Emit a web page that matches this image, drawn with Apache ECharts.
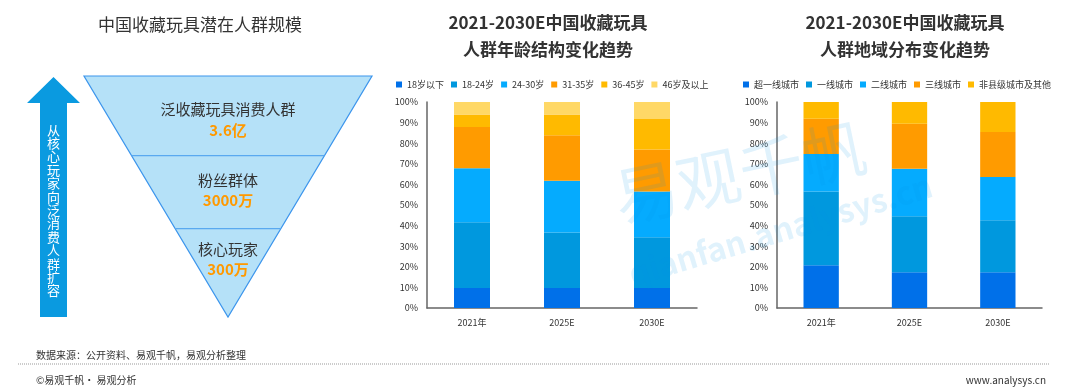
<!DOCTYPE html>
<html>
<head>
<meta charset="utf-8">
<script src="https://cdn.jsdelivr.net/npm/echarts@6/dist/echarts.min.js"></script>
<style>html,body{margin:0;padding:0;background:#fff}#c{width:1080px;height:392px}</style>
</head>
<body>
<div id="c"></div>
<script>
// ---- data ----
var years = ['2021年', '2025E', '2030E'];
var ageNames = ['18岁以下', '18-24岁', '24-30岁', '31-35岁', '36-45岁', '46岁及以上'];
var age_u18 = [9.7, 9.7, 9.7];
var age_18_24 = [31.9, 27.0, 24.6];
var age_24_30 = [26.2, 25.1, 22.3];
var age_31_35 = [20.1, 22.0, 20.3];
var age_36_45 = [6.0, 10.1, 14.8];
var age_46p = [6.1, 6.1, 8.3];
var cityNames = ['超一线城市', '一线城市', '二线城市', '三线城市', '非县级城市及其他'];
var city_super = [20.7, 17.3, 17.3];
var city_t1 = [35.9, 27.2, 25.3];
var city_t2 = [18.2, 23.1, 21.0];
var city_t3 = [17.1, 21.9, 21.8];
var city_other = [8.1, 10.5, 14.6];
var funnelNames = ['泛收藏玩具消费人群', '粉丝群体', '核心玩家'];
var funnelValues = ['3.6亿', '3000万', '300万'];
var arrowText = '从核心玩家向泛消费人群扩容';

var colors = ['#0070E9', '#0098DE', '#05ABFE', '#FF9B00', '#FFBA00', '#FFD866'];
var ageData = [age_u18, age_18_24, age_24_30, age_31_35, age_36_45, age_46p];
var cityData = [city_super, city_t1, city_t2, city_t3, city_other];

var chart = echarts.init(document.getElementById('c'));
var FONT = '"Noto Sans CJK SC", "Noto Sans", sans-serif';

function mkSeries(names, data, idx, stack) {
  return names.map(function (n, i) {
    return {
      name: n, type: 'bar', stack: stack, xAxisIndex: idx, yAxisIndex: idx,
      barWidth: '40%', data: data[i],
      itemStyle: { color: colors[i] }
    };
  });
}

function xAx(idx) {
  return {
    gridIndex: idx, type: 'category', data: years,
    axisLine: { lineStyle: { color: '#666', width: 1.5 } },
    axisTick: { show: false },
    axisLabel: { color: '#333', fontSize: 9, margin: 10, fontFamily: FONT }
  };
}
function yAx(idx) {
  return {
    gridIndex: idx, type: 'value', min: 0, max: 100, interval: 10,
    axisLine: { show: true, lineStyle: { color: '#666', width: 1.5 } },
    axisTick: { show: false }, splitLine: { show: false },
    axisLabel: { color: '#333', fontSize: 9, margin: 9, formatter: '{value}%', fontFamily: FONT }
  };
}

// funnel geometry
var fTop = 76, fL = 84, fR = 372, apexX = 228, apexY = 317;
var cuts = [fTop, 155.7, 228.7, apexY];
function xAt(y, side) {
  var t = (y - fTop) / (apexY - fTop);
  return side < 0 ? fL + (apexX - fL) * t : fR + (apexX - fR) * t;
}
var graphics = [];
graphics.push({
  type: 'polygon',
  shape: { points: [[fL, fTop], [fR, fTop], [apexX, apexY]] },
  style: { fill: '#B5E1F8', stroke: '#3C95EC', lineWidth: 1.2 }
});
[cuts[1], cuts[2]].forEach(function (y) {
  graphics.push({
    type: 'line',
    shape: { x1: xAt(y, -1), y1: y, x2: xAt(y, 1), y2: y },
    style: { stroke: '#5AA9F0', lineWidth: 1.2 }
  });
});
var nameY = [109, 180, 249], valY = [130, 200, 269];
funnelNames.forEach(function (n, i) {
  graphics.push({ type: 'text', x: apexX, y: nameY[i],
    style: { text: n, fill: '#333', font: '15px ' + FONT, align: 'center', verticalAlign: 'middle' } });
  graphics.push({ type: 'text', x: apexX, y: valY[i],
    style: { text: funnelValues[i], fill: '#FF9900', font: 'bold 15px ' + FONT, align: 'center', verticalAlign: 'middle' } });
});
// arrow
graphics.push({
  type: 'polygon',
  shape: { points: [[53.5, 77], [80, 103], [67, 103], [67, 317], [40, 317], [40, 103], [27, 103]] },
  style: { fill: '#0A9AE0' }
});
graphics.push({ type: 'text', x: 53.5, y: 210,
  style: { text: arrowText.split('').join('\n'), fill: '#fff', font: '13px ' + FONT,
    lineHeight: 13.4, align: 'center', verticalAlign: 'middle' } });
// titles
graphics.push({ type: 'text', x: 200, y: 25,
  style: { text: '中国收藏玩具潜在人群规模', fill: '#333', font: '17px ' + FONT, align: 'center', verticalAlign: 'middle' } });
graphics.push({ type: 'text', x: 548, y: 23,
  style: { text: '2021-2030E中国收藏玩具', fill: '#333', font: 'bold 17px ' + FONT, align: 'center', verticalAlign: 'middle' } });
graphics.push({ type: 'text', x: 548, y: 50,
  style: { text: '人群年龄结构变化趋势', fill: '#333', font: 'bold 17px ' + FONT, align: 'center', verticalAlign: 'middle' } });
graphics.push({ type: 'text', x: 905, y: 23,
  style: { text: '2021-2030E中国收藏玩具', fill: '#333', font: 'bold 17px ' + FONT, align: 'center', verticalAlign: 'middle' } });
graphics.push({ type: 'text', x: 905, y: 50,
  style: { text: '人群地域分布变化趋势', fill: '#333', font: 'bold 17px ' + FONT, align: 'center', verticalAlign: 'middle' } });
// footer
graphics.push({ type: 'text', x: 36, y: 355,
  style: { text: '数据来源：公开资料、易观千帆，易观分析整理', fill: '#333', font: '10px ' + FONT, verticalAlign: 'middle' } });
graphics.push({ type: 'line', shape: { x1: 18, y1: 364, x2: 1050, y2: 364 },
  style: { stroke: '#999', lineWidth: 1, lineDash: [1, 1] } });
graphics.push({ type: 'text', x: 36, y: 380,
  style: { text: '©易观千帆· 易观分析', fill: '#333', font: '10px ' + FONT, verticalAlign: 'middle' } });
graphics.push({ type: 'text', x: 1046, y: 380,
  style: { text: 'www.analysys.cn', fill: '#333', font: '10px ' + FONT, align: 'right', verticalAlign: 'middle' } });
// watermark
graphics.push({ type: 'text', x: 621, y: 230, rotation: 0.206, z: 100,
  style: { text: '易观千帆', fill: 'rgba(0,150,230,0.12)', font: '64px ' + FONT, verticalAlign: 'bottom' } });
graphics.push({ type: 'text', x: 634, y: 290, rotation: 0.29, z: 100,
  style: { text: 'qianfan.analysys.cn', fill: 'rgba(0,150,230,0.12)', font: 'bold 32px ' + FONT, verticalAlign: 'bottom' } });

var legendBase = { itemWidth: 6, itemHeight: 6, itemGap: 7, itemTextGap: 3, top: 75,
  textStyle: { fontSize: 9, color: '#333', fontFamily: FONT }, icon: 'rect' };

var option = {
  animation: false,
  textStyle: { fontFamily: FONT },
  color: colors,
  legend: [
    Object.assign({}, legendBase, { left: 391, width: 330, data: ageNames }),
    Object.assign({}, legendBase, { left: 738, width: 330, data: cityNames })
  ],
  grid: [
    { left: 427, right: 383, top: 102, bottom: 84 },
    { left: 777, right: 38, top: 102, bottom: 84 }
  ],
  xAxis: [xAx(0), xAx(1)],
  yAxis: [yAx(0), yAx(1)],
  series: mkSeries(ageNames, ageData, 0, 'age').concat(mkSeries(cityNames, cityData, 1, 'city')),
  graphic: graphics
};
chart.setOption(option);
</script>
</body>
</html>
